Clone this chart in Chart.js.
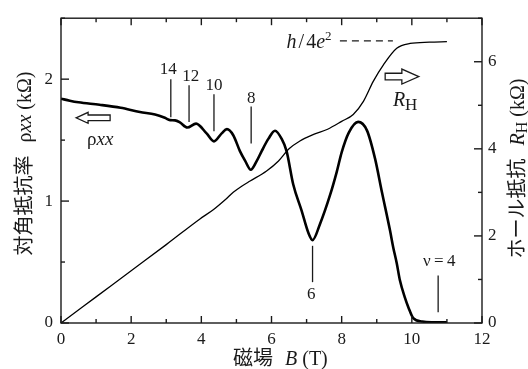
<!DOCTYPE html>
<html><head><meta charset="utf-8">
<script src="https://cdn.jsdelivr.net/npm/chart.js@4/dist/chart.umd.min.js"></script>
<style>html,body{margin:0;padding:0;background:#fff}#wrap{width:528px;height:369px}</style>
</head><body><div id="wrap"><canvas id="c" width="528" height="369"></canvas></div>
<script>
// ---- data ----
const rhoB   = [0,0.25,0.5,1.1,1.7,2.25,2.68,2.96,3.11,3.25,3.39,3.6,3.85,4.15,4.36,4.58,4.73,4.91,5.1,5.25,5.41,5.58,5.72,5.91,6.1,6.29,6.43,6.62,6.86,7.05,7.17,7.38,7.67,7.86,8.0,8.2,8.47,8.72,8.95,9.15,9.38,9.47,9.57,9.66,9.8,9.9,10.04,10.3,10.6,11.0];
const rhoXX  = [1.84,1.823,1.81,1.79,1.765,1.73,1.71,1.683,1.664,1.662,1.645,1.603,1.635,1.555,1.49,1.555,1.59,1.54,1.41,1.33,1.257,1.33,1.41,1.51,1.577,1.51,1.41,1.136,0.92,0.74,0.68,0.81,1.05,1.24,1.40,1.56,1.65,1.58,1.35,1.07,0.756,0.62,0.49,0.35,0.21,0.13,0.04,0.012,0.006,0.005];
const hallB  = [0,1,2,3,3.96,4.34,4.68,4.91,5.15,5.39,5.86,6.2,6.5,6.81,7.2,7.6,8.0,8.33,8.62,8.9,9.19,9.57,9.95,10.5,11.0];
const hallR  = [0,0.6,1.2,1.8,2.39,2.6,2.83,3.0,3.14,3.26,3.49,3.72,4.0,4.18,4.33,4.45,4.63,4.79,5.09,5.55,5.93,6.31,6.42,6.45,6.46];
const xTickLabels = ['0','2','4','6','8','10','12'];
const fillingLabels = ['14','12','10','8','6','ν\u2009=\u20094'];
const fillingB      = [3.13,3.65,4.36,5.42,7.17,10.75];
const plateauR = 6.45;

const SERIF = '"Liberation Serif","Times New Roman",serif';
const CJK = '"Noto Sans CJK JP","Noto Sans CJK SC",sans-serif';
const sf = (s, it) => (it ? 'italic ' : '') + s + 'px ' + SERIF;
const cf = s => s + 'px ' + CJK;
const INK = '#1a1a1a';
Chart.defaults.font.family = SERIF;

function drawRuns(ctx, runs, x, y, align) {
  let total = 0;
  runs.forEach(r => { if (r.gap !== undefined) { total += r.gap; } else { ctx.font = r.font; r.w = ctx.measureText(r.t).width; total += r.w; } });
  let cx = align === 'center' ? x - total / 2 : (align === 'right' ? x - total : x);
  ctx.textAlign = 'left'; ctx.textBaseline = 'alphabetic';
  runs.forEach(r => {
    if (r.gap !== undefined) { cx += r.gap; return; }
    ctx.font = r.font; ctx.fillText(r.t, cx, y + (r.dy || 0)); cx += r.w;
  });
}
function line(ctx, x0, y0, x1, y1) { ctx.beginPath(); ctx.moveTo(x0, y0); ctx.lineTo(x1, y1); ctx.stroke(); }
function hollowArrow(ctx, tipX, y, tailX, headLen, headHalf, shaftHalf) {
  const d = Math.sign(tailX - tipX), hb = tipX + d * headLen;
  ctx.beginPath();
  ctx.moveTo(tipX, y);
  ctx.lineTo(hb, y - headHalf); ctx.lineTo(hb, y - shaftHalf); ctx.lineTo(tailX, y - shaftHalf);
  ctx.lineTo(tailX, y + shaftHalf); ctx.lineTo(hb, y + shaftHalf); ctx.lineTo(hb, y + headHalf);
  ctx.closePath(); ctx.fillStyle = '#fff'; ctx.fill(); ctx.stroke();
}

const decor = {
  id: 'decor',
  afterDraw(chart) {
    const ctx = chart.ctx, a = chart.chartArea;
    const X = chart.scales.x, Y = chart.scales.y, Y2 = chart.scales.y2;
    ctx.save();
    ctx.strokeStyle = INK; ctx.fillStyle = INK; ctx.lineWidth = 1.4;
    ctx.strokeRect(a.left, a.top, a.right - a.left, a.bottom - a.top);
    for (let v = 0; v <= 12; v++) {
      const px = X.getPixelForValue(v), len = v % 2 === 0 ? 7 : 4;
      line(ctx, px, a.bottom, px, a.bottom - len);
      line(ctx, px, a.top, px, a.top + len);
    }
    for (let v = 0; v <= 2.5; v += 0.5) {
      const py = Y.getPixelForValue(v), len = Number.isInteger(v) ? 8 : 4;
      line(ctx, a.left, py, a.left + len, py);
    }
    for (let v = 0; v <= 7; v++) {
      const py = Y2.getPixelForValue(v), len = v % 2 === 0 ? 8 : 4;
      line(ctx, a.right, py, a.right - len, py);
    }
    const markTop = [2.00,1.950,1.877,1.775,0.633,0.390];
    const markBot = [1.688,1.648,1.572,1.472,0.335,0.089];
    const labB    = [3.06,3.70,4.36,5.42,7.13,10.78];
    const labRho  = [2.04,1.986,1.913,1.804,0.195,0.471];
    ctx.lineWidth = 1.3;
    ctx.textAlign = 'center'; ctx.textBaseline = 'alphabetic'; ctx.font = sf(17);
    for (let i = 0; i < fillingB.length; i++) {
      const px = X.getPixelForValue(fillingB[i]);
      line(ctx, px, Y.getPixelForValue(markTop[i]), px, Y.getPixelForValue(markBot[i]));
      ctx.fillText(fillingLabels[i], X.getPixelForValue(labB[i]), Y.getPixelForValue(labRho[i]));
    }
    const py = Y2.getPixelForValue(plateauR + 0.03);
    ctx.setLineDash([7, 5]);
    line(ctx, X.getPixelForValue(7.95), py, X.getPixelForValue(9.46), py);
    ctx.setLineDash([]);
    drawRuns(ctx, [
      {t: 'h', font: sf(20, true)}, {gap: 2}, {t: '/', font: sf(20)}, {gap: 2},
      {t: '4', font: sf(20)}, {t: 'e', font: sf(20, true)}, {t: '2', font: sf(13), dy: -8}
    ], X.getPixelForValue(6.43), Y2.getPixelForValue(6.32), 'left');
    ctx.lineWidth = 1.3;
    hollowArrow(ctx, X.getPixelForValue(0.43), Y.getPixelForValue(1.683), X.getPixelForValue(1.40), 12, 5.5, 2.8);
    hollowArrow(ctx, X.getPixelForValue(10.2), Y2.getPixelForValue(5.66), X.getPixelForValue(9.24), 17, 7.5, 3.3);
    ctx.fillStyle = INK;
    drawRuns(ctx, [{t: 'ρ', font: sf(19)}, {t: 'xx', font: sf(19, true)}],
      X.getPixelForValue(0.74), Y.getPixelForValue(1.459), 'left');
    drawRuns(ctx, [{t: 'R', font: sf(20, true)}, {t: 'H', font: sf(17), dy: 3.5}],
      X.getPixelForValue(9.46), Y2.getPixelForValue(4.98), 'left');
    ctx.save(); ctx.translate(31, 163.5); ctx.rotate(-Math.PI / 2);
    drawRuns(ctx, [{t: '対角抵抗率', font: cf(20)}, {gap: 13}, {t: 'ρ', font: sf(20)}, {t: 'xx', font: sf(20, true)}, {t: ' (kΩ)', font: sf(20)}], 0, 0, 'center');
    ctx.restore();
    ctx.save(); ctx.translate(524, 168.5); ctx.rotate(-Math.PI / 2);
    drawRuns(ctx, [{t: 'ホール抵抗', font: cf(20)}, {gap: 13}, {t: 'R', font: sf(20, true)}, {t: 'H', font: sf(16), dy: 3}, {t: ' (kΩ)', font: sf(20)}], 0, 0, 'center');
    ctx.restore();
    drawRuns(ctx, [{t: '磁場', font: cf(20)}, {gap: 12}, {t: 'B', font: sf(20, true)}, {t: ' (T)', font: sf(20)}], 233, 365, 'left');
    ctx.restore();
  }
};

const tickFont = { family: SERIF, size: 17 };
new Chart(document.getElementById('c'), {
  type: 'line',
  data: {
    datasets: [
      { label: 'ρxx', data: rhoB.map((b, i) => ({x: b, y: rhoXX[i]})), yAxisID: 'y',
        borderColor: '#000', borderWidth: 2.6, pointRadius: 0, cubicInterpolationMode: 'monotone', fill: false },
      { label: 'RH', data: hallB.map((b, i) => ({x: b, y: hallR[i]})), yAxisID: 'y2',
        borderColor: '#000', borderWidth: 1.3, pointRadius: 0, cubicInterpolationMode: 'monotone', fill: false }
    ]
  },
  options: {
    responsive: false, devicePixelRatio: 1, animation: false,
    layout: { padding: { top: 15, left: 0, right: 0, bottom: 0 } },
    plugins: { legend: { display: false }, tooltip: { enabled: false } },
    scales: {
      x: { type: 'linear', min: 0, max: 12, position: 'bottom',
        grid: { display: false, drawTicks: false }, border: { display: false },
        ticks: { stepSize: 2, maxRotation: 0, padding: 6, color: INK, font: tickFont,
          callback: v => xTickLabels[v / 2] },
        afterFit: s => { s.height = 46; } },
      y: { type: 'linear', min: 0, max: 2.5, position: 'left',
        grid: { display: false, drawTicks: false }, border: { display: false },
        ticks: { stepSize: 1, includeBounds: false, padding: 8, color: INK, font: tickFont },
        afterFit: s => { s.width = 61; } },
      y2: { type: 'linear', min: 0, max: 7, position: 'right',
        grid: { display: false, drawTicks: false }, border: { display: false },
        ticks: { stepSize: 2, includeBounds: false, padding: 6, color: INK, font: tickFont },
        afterFit: s => { s.width = 46; } }
    }
  },
  plugins: [decor]
});
</script>
</body></html>
